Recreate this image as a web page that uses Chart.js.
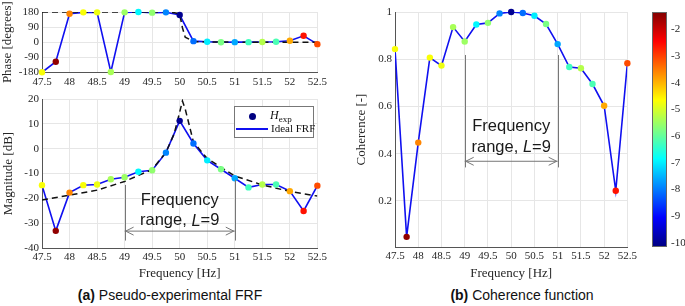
<!DOCTYPE html>
<html>
<head>
<meta charset="utf-8">
<script src="https://cdn.jsdelivr.net/npm/chart.js@4.4.0/dist/chart.umd.min.js"></script>
<style>
  body { margin: 0; background: #fff; width: 685px; height: 306px; position: relative; overflow: hidden; }
  canvas { position: absolute; display: block; }
  .cap { position: absolute; top: 287px; font-family: "Liberation Sans", Arial, sans-serif; font-size: 14px; color: #111; white-space: nowrap; transform: translateX(-50%); }
  .legend { position: absolute; left: 234px; top: 106px; width: 78px; height: 30px; border: 1px solid #777; background: #fff;
            font-family: "Liberation Serif", "Times New Roman", serif; font-size: 11px; color: #111; }
  .legend span { position: absolute; white-space: nowrap; }
</style>
</head>
<body>
<canvas id="phase" width="330" height="90" style="left:0;top:0"></canvas>
<canvas id="mag" width="330" height="193" style="left:0;top:90px"></canvas>
<canvas id="coh" width="300" height="283" style="left:340px;top:0"></canvas>
<canvas id="cbar" width="40" height="283" style="left:645px;top:0"></canvas>

<div class="legend">
  <span style="left:14px;top:6px;width:7px;height:7px;border-radius:50%;background:#000080"></span>
  <span style="left:35px;top:1px;font-size:12px"><i>H</i><sub style="font-size:9px">exp</sub></span>
  <span style="left:1px;top:21px;width:32px;height:2px;background:#1010f0"></span>
  <span style="left:36px;top:15px">Ideal FRF</span>
</div>

<div class="cap" style="left:170px"><b>(a)</b> Pseudo-experimental FRF</div>
<div class="cap" style="left:522px"><b>(b)</b> Coherence function</div>

<script>
// measured points, one per frequency line
const freq = [47.5, 47.75, 48, 48.25, 48.5, 48.75, 49, 49.25, 49.5, 49.75, 50,
              50.25, 50.5, 50.75, 51, 51.25, 51.5, 51.75, 52, 52.25, 52.5];
const phase = [-180, -117, 170, 178, 178, -178, 178, 180, 176, 178, 162,
               6, 2, -1, 0, 0, 1, 2, 8, 38, -12];
const magnitude = [-14.7, -33.1, -17.7, -14.7, -14.4, -12.3, -11.5, -9.3, -8.7, -1.6, 11.2,
                   2.1, -4.7, -8.3, -11.9, -15.6, -14.4, -14.4, -17.1, -25.1, -14.9];
const coherence = [0.843, 0.048, 0.447, 0.807, 0.773, 0.936, 0.875, 0.947, 0.954, 0.994, 1.0,
                   0.996, 0.984, 0.949, 0.864, 0.767, 0.762, 0.695, 0.603, 0.243, 0.783];
// colour index of each point (colorbar units)
const colourValue = [-4.7, -1.5, -3.6, -4.7, -4.8, -5.4, -5.5, -6.9, -5.6, -7.9, -10,
                     -8.1, -7.0, -5.8, -7.6, -6.3, -5.3, -6.2, -3.9, -2.6, -3.1];

// ideal FRF (dashed)
const idealFreq = [47.5, 48, 48.5, 49, 49.5, 49.75, 49.9, 50, 50.05, 50.1, 50.25, 50.5, 51, 51.5, 52, 52.5];
const idealPhase = [180, 180, 180, 180, 180, 179, 176, 168, 86, 30, 4, 1, 0, 0, 0, 0];
const idealMag = [-20.7, -18.7, -16.7, -13.2, -8.4, -1.5, 6, 14.7, 19.2, 16, 2.7, -4, -11, -14.6, -17.2, -19.1];

// ticks
const freqTicks = [47.5, 48, 48.5, 49, 49.5, 50, 50.5, 51, 51.5, 52, 52.5];
const phaseTicks = [-180, -90, 0, 90, 180];
const magTicks = [-40, -30, -20, -10, 0, 10, 20];
const cohTicks = [0.2, 0.4, 0.6, 0.8, 1];
const colourTicks = [-10, -9, -8, -7, -6, -5, -4, -3, -2];
const colourMin = -10.15, colourMax = -1.35;

// frequency range annotation (L = 9 lines, 49 .. 51 Hz)
const rangeFreq = [49, 51];

const SERIF = '"Liberation Serif", "Times New Roman", serif';
const SANS = '"Liberation Sans", Arial, sans-serif';
const TXT = '#262626', GRID = '#e6e6e6', AXIS = '#555', BLUE = '#1010f0';

function jet(t) {
    const c = x => Math.round(255 * Math.max(0, Math.min(1, x)));
    return `rgb(${c(1.5 - Math.abs(4 * t - 3))},${c(1.5 - Math.abs(4 * t - 2))},${c(1.5 - Math.abs(4 * t - 1))})`;
}
const pointColours = colourValue.map(v => jet((v - colourMin) / (colourMax - colourMin)));
const xy = (xs, ys) => xs.map((x, i) => ({ x: x, y: ys[i] }));
const plain = v => String(Math.round(v * 100) / 100);

// gray range lines, double arrow and the "Frequency range, L=9" text
const rangeNote = {
    id: 'rangeNote',
    afterDatasetsDraw(chart, args, o) {
        if (!o || !o.tops) return;
        const { ctx, scales: { x, y } } = chart;
        const x0 = x.getPixelForValue(rangeFreq[0]), x1 = x.getPixelForValue(rangeFreq[1]);
        const ya = y.getPixelForValue(o.arrow);
        ctx.save();
        ctx.strokeStyle = '#777';
        ctx.lineWidth = 1;
        ctx.beginPath();
        [x0, x1].forEach((px, i) => {
            ctx.moveTo(Math.round(px) + 0.5, y.getPixelForValue(o.tops[i]));
            ctx.lineTo(Math.round(px) + 0.5, y.getPixelForValue(o.bottom));
        });
        ctx.moveTo(x0, ya); ctx.lineTo(x1, ya);
        ctx.moveTo(x0 + 9, ya - 4); ctx.lineTo(x0 + 1, ya); ctx.lineTo(x0 + 9, ya + 4);
        ctx.moveTo(x1 - 9, ya - 4); ctx.lineTo(x1 - 1, ya); ctx.lineTo(x1 - 9, ya + 4);
        ctx.stroke();

        const cx = (x0 + x1) / 2;
        ctx.fillStyle = '#1a1a1a';
        ctx.textBaseline = 'middle';
        ctx.font = '16.5px ' + SANS;
        ctx.textAlign = 'center';
        ctx.fillText('Frequency', cx, y.getPixelForValue(o.line1));
        const y2 = y.getPixelForValue(o.line2);
        const a = 'range, ', b = 'L', c = '=9';
        const wa = ctx.measureText(a).width, wc = ctx.measureText(c).width;
        ctx.font = 'italic 16.5px ' + SANS;
        const wb = ctx.measureText(b).width;
        let sx = cx - (wa + wb + wc) / 2;
        ctx.textAlign = 'left';
        ctx.font = '16.5px ' + SANS;
        ctx.fillText(a, sx, y2);
        ctx.font = 'italic 16.5px ' + SANS;
        ctx.fillText(b, sx + wa, y2);
        ctx.font = '16.5px ' + SANS;
        ctx.fillText(c, sx + wa + wb, y2);
        ctx.restore();
    }
};

function series(ys, idealYs) {
    const sets = [
        { data: xy(freq, ys), showLine: true, borderColor: BLUE, borderWidth: 1.6, pointRadius: 0, tension: 0, order: 3 }
    ];
    if (idealYs) {
        sets.push({ data: xy(idealFreq, idealYs), showLine: true, borderColor: '#111', borderDash: [6, 4],
                    borderWidth: 1.5, pointRadius: 0, tension: 0, order: 2 });
    }
    sets.push({ data: xy(freq, ys), showLine: false, pointRadius: 3.2, pointBackgroundColor: pointColours,
                pointBorderColor: pointColours, pointBorderWidth: 0, clip: false, order: 1 });
    return sets;
}

function makeChart(id, o) {
    return new Chart(document.getElementById(id), {
        type: 'scatter',
        data: { datasets: series(o.ys, o.ideal) },
        plugins: [rangeNote],
        options: {
            responsive: false,
            animation: false,
            events: [],
            layout: { padding: o.pad },
            plugins: { legend: { display: false }, tooltip: { enabled: false }, rangeNote: o.note || {} },
            scales: {
                x: {
                    type: 'linear', min: 47.5, max: 52.5,
                    afterBuildTicks: s => { s.ticks = freqTicks.map(v => ({ value: v })); },
                    ticks: { font: { family: SERIF, size: 11 }, color: TXT, padding: 3, maxRotation: 0,
                             autoSkip: false, callback: plain },
                    grid: { color: GRID, drawTicks: false },
                    border: { color: AXIS },
                    title: o.xTitle
                        ? { display: true, text: o.xTitle, color: TXT, font: { family: SERIF, size: 13 }, padding: { top: 0, bottom: 2 } }
                        : { display: false },
                    afterFit: s => { s.height = o.xh; }
                },
                y: {
                    type: 'linear', min: o.ymin, max: o.ymax,
                    afterBuildTicks: s => { s.ticks = o.yTicks.map(v => ({ value: v })); },
                    ticks: { font: { family: SERIF, size: 11, lineHeight: 1 }, color: TXT, padding: 3,
                             autoSkip: false, autoSkipPadding: 0, callback: o.fmt || plain },
                    grid: { color: GRID, drawTicks: false },
                    border: { color: AXIS },
                    title: { display: true, text: o.yTitle, color: TXT, font: { family: SERIF, size: 13 }, padding: { top: o.yTitlePad, bottom: 0 } },
                    afterFit: s => { s.width = o.yw; }
                }
            }
        }
    });
}

makeChart('phase', {
    ys: phase, ideal: idealPhase, ymin: -180, ymax: 180, yTicks: phaseTicks,
    yTitle: 'Phase [degrees]', yTitlePad: 0, yw: 42, xh: 17.7,
    pad: { top: 12, right: 10, left: 0, bottom: 0 }
});

makeChart('mag', {
    ys: magnitude, ideal: idealMag, ymin: -40, ymax: 20, yTicks: magTicks,
    yTitle: 'Magnitude [dB]', yTitlePad: 1, yw: 42, xh: 35, xTitle: 'Frequency [Hz]',
    pad: { top: 9, right: 10, left: 0, bottom: 0 },
    note: { tops: [-14.6, -12.6], bottom: -37, arrow: -33.2, line1: -20.7, line2: -29.1 }
});

makeChart('coh', {
    ys: coherence, ymin: 0.005, ymax: 1, yTicks: cohTicks,
    fmt: v => (v === 1 ? '1' : v.toFixed(1)),
    yTitle: 'Coherence [-]', yTitlePad: 14, yw: 55, xh: 36, xTitle: 'Frequency [Hz]',
    pad: { top: 12, right: 7, left: 0, bottom: 0 },
    note: { tops: [0.818, 0.818], bottom: 0.342, arrow: 0.368, line1: 0.517, line2: 0.428 }
});

// colorbar: jet gradient filling the chart area, ticks on the right
const colourBar = {
    id: 'colourBar',
    beforeDatasetsDraw(chart) {
        const { ctx, chartArea: a, scales: { y } } = chart;
        const g = ctx.createLinearGradient(0, y.getPixelForValue(colourMin), 0, y.getPixelForValue(colourMax));
        for (let i = 0; i <= 32; i++) g.addColorStop(i / 32, jet(i / 32));
        ctx.save();
        ctx.fillStyle = g;
        ctx.fillRect(a.left, a.top, a.right - a.left, a.bottom - a.top);
        ctx.strokeStyle = '#666';
        ctx.lineWidth = 1;
        ctx.strokeRect(a.left + 0.5, a.top + 0.5, a.right - a.left - 1, a.bottom - a.top - 1);
        ctx.restore();
    }
};

new Chart(document.getElementById('cbar'), {
    type: 'scatter',
    data: { datasets: [{ data: [] }] },
    plugins: [colourBar],
    options: {
        responsive: false,
        animation: false,
        events: [],
        layout: { padding: { top: 12, bottom: 36, left: 7, right: 0 } },
        plugins: { legend: { display: false }, tooltip: { enabled: false } },
        scales: {
            x: { display: false, min: 0, max: 1 },
            y: {
                position: 'right', min: colourMin, max: colourMax,
                afterBuildTicks: s => { s.ticks = colourTicks.map(v => ({ value: v })); },
                ticks: { font: { family: SERIF, size: 11, lineHeight: 1 }, color: TXT, padding: 4,
                         autoSkip: false, autoSkipPadding: 0 },
                grid: { display: false, drawTicks: false },
                border: { display: false },
                afterFit: s => { s.width = 18; }
            }
        }
    }
});
</script>
</body>
</html>
